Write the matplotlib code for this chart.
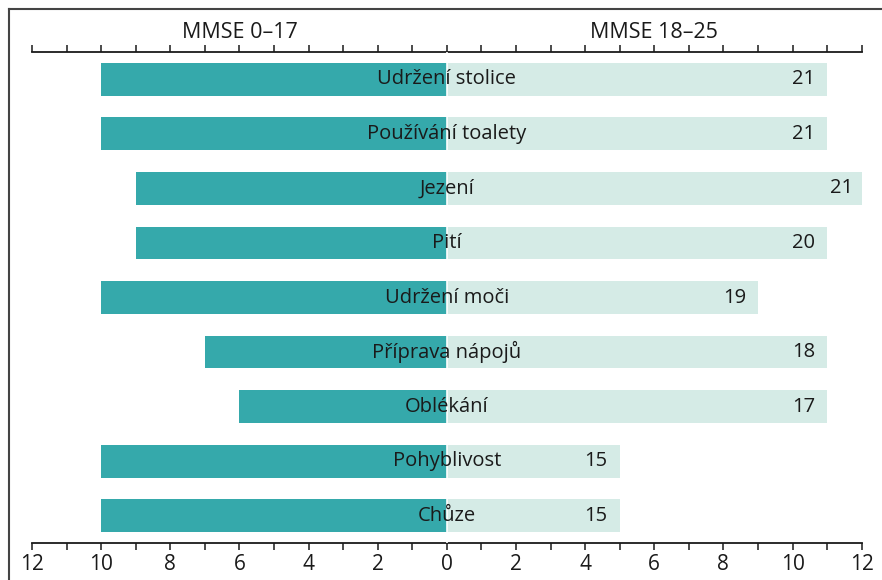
import matplotlib.pyplot as plt
import numpy as np
from matplotlib.lines import Line2D
from matplotlib.ticker import MultipleLocator, FuncFormatter

plt.rcParams['font.family'] = ['Open Sans', 'DejaVu Sans']

categories = ["Udržení stolice", "Používání toalety", "Jezení", "Pití", "Udržení moči",
              "Příprava nápojů", "Oblékání", "Pohyblivost", "Chůze"]
mmse_low = [10, 10, 9, 9, 10, 7, 6, 10, 10]        # MMSE 0–17 (left side)
mmse_high = [11, 11, 12.1, 11, 9, 11, 11, 5, 5]    # MMSE 18–25 (right side)
high_labels = ["21", "21", "21", "20", "19", "18", "17", "15", "15"]
group_titles = ["MMSE 0–17", "MMSE 18–25"]

dark = "#35a9ab"
light = "#d5ebe6"

fig = plt.figure(figsize=(8.82, 5.8), dpi=100)
ax = fig.add_axes([0.0363, 0.0638, 0.9407, 0.8465])

y = np.arange(len(categories))
ax.barh(y, [-v for v in mmse_low], height=0.6, color=dark, zorder=2)
ax.barh(y, mmse_high, height=0.6, color=light, zorder=2)
ax.axvline(0, color="white", lw=1.2, zorder=3)

for yi, name, val, lab in zip(y, categories, mmse_high, high_labels):
    ax.text(0, yi, name, ha="center", va="center", fontsize=14.5, color="#1a1a1a", zorder=4)
    ax.text(val - 0.35, yi, lab, ha="right", va="center", fontsize=14.5, color="#1a1a1a", zorder=4)

ax.set_xlim(-12, 12)
ax.set_ylim(len(categories) - 0.5, -0.5)
ax.set_yticks([])

for side in ["left", "right"]:
    ax.spines[side].set_visible(False)
for side in ["top", "bottom"]:
    ax.spines[side].set_linewidth(1.3)
    ax.spines[side].set_color("#1a1a1a")

ax.xaxis.set_major_locator(MultipleLocator(2))
ax.xaxis.set_minor_locator(MultipleLocator(1))
ax.xaxis.set_major_formatter(FuncFormatter(lambda v, p: f"{abs(int(round(v)))}"))
ax.tick_params(axis="x", which="both", top=True, bottom=True, direction="out",
               length=5, width=1.1, color="#1a1a1a", labelsize=15, pad=3,
               labeltop=False, labelcolor="#1a1a1a")

for xpos, title in zip([-6, 6], group_titles):
    ax.annotate(title, xy=(xpos, 1), xycoords=("data", "axes fraction"),
                xytext=(0, 10), textcoords="offset points",
                ha="center", va="baseline", fontsize=15.5, color="#1a1a1a")

# frame around the figure (left and top edges visible)
fig.add_artist(Line2D([9 / 882, 9 / 882], [0, 1 - 9 / 580], transform=fig.transFigure,
                      color="#444444", lw=1.5))
fig.add_artist(Line2D([9 / 882, 1], [1 - 9 / 580, 1 - 9 / 580], transform=fig.transFigure,
                      color="#444444", lw=1.5))

fig.savefig("out.png", dpi=100)
